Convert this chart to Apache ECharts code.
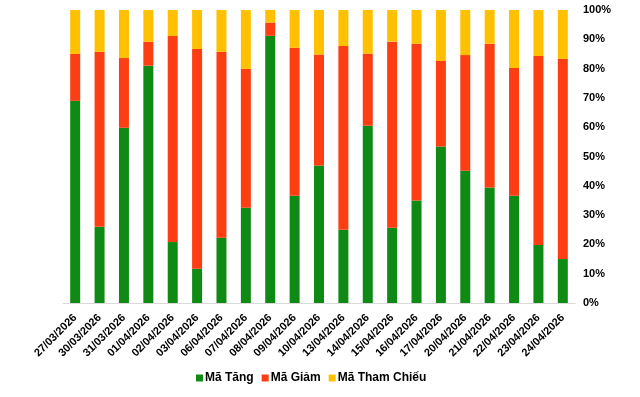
<!DOCTYPE html>
<html>
<head>
<meta charset="utf-8">
<script src="https://cdn.jsdelivr.net/npm/echarts@6/dist/echarts.min.js"></script>
<style>
  html, body { margin: 0; padding: 0; background: #fff; }
  #main { width: 640px; height: 397px; }
</style>
</head>
<body>
<div id="main"></div>
<script>
var dates = ['27/03/2026', '30/03/2026', '31/03/2026', '01/04/2026', '02/04/2026', '03/04/2026', '06/04/2026',
  '07/04/2026', '08/04/2026', '09/04/2026', '10/04/2026', '13/04/2026', '14/04/2026', '15/04/2026',
  '16/04/2026', '17/04/2026', '20/04/2026', '21/04/2026', '22/04/2026', '23/04/2026', '24/04/2026'];

// % of tickers per session
var tang = [69.0, 26.0, 59.8, 81.0, 20.8, 11.7, 22.3, 32.5, 91.2, 36.6, 46.9, 25.0, 60.5, 25.7, 35.0, 53.4, 45.1, 39.4, 36.6, 19.8, 15.0];
var giam = [16.0, 59.7, 23.8, 8.1, 70.3, 75.0, 63.4, 47.4, 4.5, 50.5, 37.9, 62.7, 24.6, 63.5, 53.5, 29.2, 39.5, 49.1, 43.6, 64.5, 68.3];
var thamChieu = [15.0, 14.3, 16.4, 10.9, 8.9, 13.3, 14.3, 20.1, 4.3, 12.9, 15.2, 12.3, 14.9, 10.8, 11.5, 17.4, 15.4, 11.5, 19.8, 15.7, 16.7];

var yTicks = [0, 10, 20, 30, 40, 50, 60, 70, 80, 90, 100];

var myChart = echarts.init(document.getElementById('main'));

function bar(name, data, color) {
  return {
    name: name,
    type: 'bar',
    stack: 'all',
    barWidth: 10,
    data: data,
    itemStyle: { color: color }
  };
}

var option = {
  animation: false,
  textStyle: { fontFamily: 'Liberation Sans, Arial, sans-serif' },
  grid: { left: 63, right: 65, top: 10, bottom: 94, containLabel: false },
  legend: {
    bottom: 8,
    left: 191,
    itemWidth: 7,
    itemHeight: 7,
    itemGap: 8,
    icon: 'rect',
    textStyle: {
      fontSize: 12, fontWeight: 'bold', color: '#000',
      fontFamily: 'Liberation Sans, Arial, sans-serif',
      padding: [0, 0, 0, -3]
    },
    data: ['Mã Tăng', 'Mã Giảm', 'Mã Tham Chiếu']
  },
  xAxis: {
    type: 'category',
    data: dates,
    axisLine: { lineStyle: { color: '#d9d9d9' } },
    axisTick: { show: false },
    axisLabel: {
      rotate: 45,
      interval: 0,
      margin: 13,
      fontSize: 11,
      fontWeight: 'bold',
      color: '#000'
    }
  },
  yAxis: {
    type: 'value',
    position: 'right',
    min: yTicks[0],
    max: yTicks[yTicks.length - 1],
    interval: 10,
    splitLine: { show: false },
    axisLine: { show: false },
    axisTick: { show: false },
    axisLabel: {
      margin: 8,
      fontSize: 11,
      fontWeight: 'bold',
      color: '#000',
      formatter: '{value}%'
    }
  },
  series: [
    bar('Mã Tăng', tang, '#0f8a15'),
    bar('Mã Giảm', giam, '#fd3d12'),
    bar('Mã Tham Chiếu', thamChieu, '#ffc000')
  ]
};

myChart.setOption(option);
</script>
</body>
</html>
